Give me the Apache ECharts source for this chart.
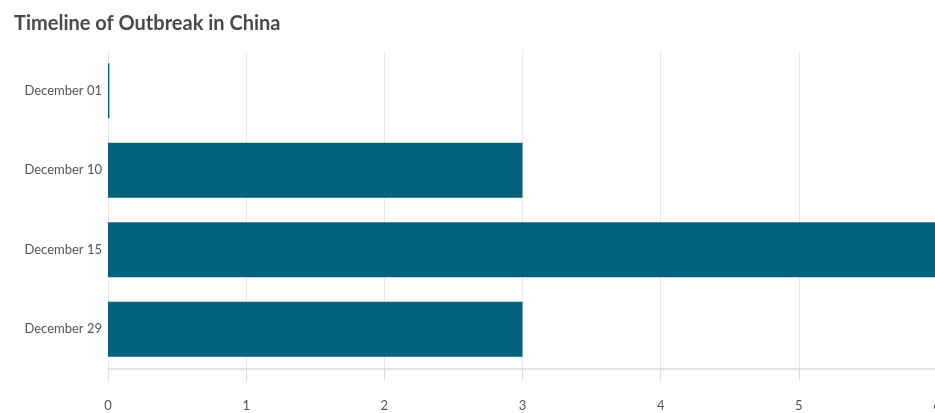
<!DOCTYPE html>
<html><head><meta charset="utf-8">
<script src="https://cdn.jsdelivr.net/npm/echarts@6/dist/echarts.min.js"></script>
<style>html,body{margin:0;padding:0;background:#fff}#c{width:935px;height:413px}</style>
</head><body><div id="c"></div>
<script>
const categories = ["December 01", "December 10", "December 15", "December 29"];
const values = [0.01, 3, 6, 3];
const xTicks = [0, 1, 2, 3, 4, 5, 6];

const chart = echarts.init(document.getElementById('c'));
chart.setOption({
  animation: false,
  title: {
    text: 'Timeline of Outbreak in China',
    left: 9, top: 9,
    textStyle: { fontFamily: 'Lato', fontSize: 20, fontWeight: 'bold', color: '#4a4a4a' }
  },
  grid: { left: 108, width: 829, top: 51, bottom: 44, containLabel: false, outerBoundsMode: 'none' },
  xAxis: {
    type: 'value', min: xTicks[0], max: xTicks[xTicks.length - 1], interval: 1,
    axisLine: { show: true, lineStyle: { color: '#dcdcdc', width: 1.5 } },
    axisTick: { show: true, length: 12, lineStyle: { color: '#dcdcdc' } },
    axisLabel: { margin: 30, fontFamily: 'Lato', fontSize: 13, color: '#555', showMaxLabel: true, hideOverlap: false },
    splitLine: { show: true, lineStyle: { color: '#e8e8e8' } }
  },
  yAxis: {
    type: 'category', data: categories, inverse: true,
    axisLine: { show: false }, axisTick: { show: false },
    axisLabel: { margin: 6, fontFamily: 'Lato', fontSize: 13, color: '#555' }
  },
  series: [{
    type: 'bar', data: values, barCategoryGap: '31%',
    itemStyle: { color: '#00627d' }
  }]
});
</script></body></html>
